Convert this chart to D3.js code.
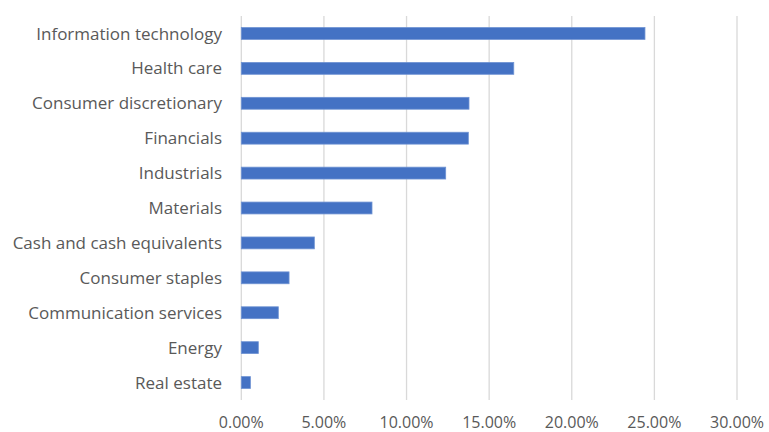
<!DOCTYPE html>
<html>
<head>
<meta charset="utf-8">
<script src="https://cdn.jsdelivr.net/npm/d3@7"></script>
<style>
  body { margin: 0; background: #fff; }
  text { font-family: "Open Sans", "Noto Sans", sans-serif; fill: #595959; }
</style>
</head>
<body>
<script>
"use strict";

// data
var sectors = [
    "Information technology", "Health care", "Consumer discretionary", "Financials",
    "Industrials", "Materials", "Cash and cash equivalents", "Consumer staples",
    "Communication services", "Energy", "Real estate"
];
var weights = [24.43, 16.49, 13.78, 13.74, 12.37, 7.91, 4.42, 2.89, 2.24, 1.03, 0.55];
var ticks = [0, 5, 10, 15, 20, 25, 30];

(function() {
    var W = 769, H = 432;
    var plotLeft = 241.3, plotRight = 737, plotTop = 16, plotBottom = 400;

    var svg = d3.select("body").append("svg")
        .attr("width", W).attr("height", H);

    var x = d3.scaleLinear().domain([0, 30]).range([plotLeft, plotRight]);
    var y = d3.scaleBand().domain(sectors).range([plotTop, plotBottom])
        .paddingInner(0.66).paddingOuter(0.33);

    // gridlines
    svg.selectAll("line.grid")
        .data(ticks)
        .enter()
        .append("line")
        .attr("class", "grid")
        .attr("x1", function(d) { return x(d); })
        .attr("x2", function(d) { return x(d); })
        .attr("y1", plotTop)
        .attr("y2", plotBottom)
        .style("stroke", "#d9d9d9")
        .style("stroke-width", 1.3);

    // bars
    svg.selectAll("rect")
        .data(sectors)
        .enter()
        .append("rect")
        .attr("x", x(0))
        .attr("y", function(d) { return y(d); })
        .attr("width", function(d, i) { return x(weights[i]) - x(0); })
        .attr("height", y.bandwidth())
        .style("fill", "#4472c4")
        .style("stroke", "#6f93d3")
        .style("stroke-width", 0.8);

    // category labels
    svg.selectAll("text.cat")
        .data(sectors)
        .enter()
        .append("text")
        .attr("class", "cat")
        .attr("x", 222)
        .attr("y", function(d) { return y(d) + y.bandwidth() / 2; })
        .attr("dy", "0.36em")
        .attr("text-anchor", "end")
        .style("font-size", "17px")
        .text(function(d) { return d; });

    // x tick labels
    svg.selectAll("text.tick")
        .data(ticks)
        .enter()
        .append("text")
        .attr("class", "tick")
        .attr("x", function(d) { return x(d); })
        .attr("y", 428)
        .attr("text-anchor", "middle")
        .style("font-size", "16px")
        .text(function(d) { return d.toFixed(2) + "%"; });
})();
</script>
</body>
</html>
